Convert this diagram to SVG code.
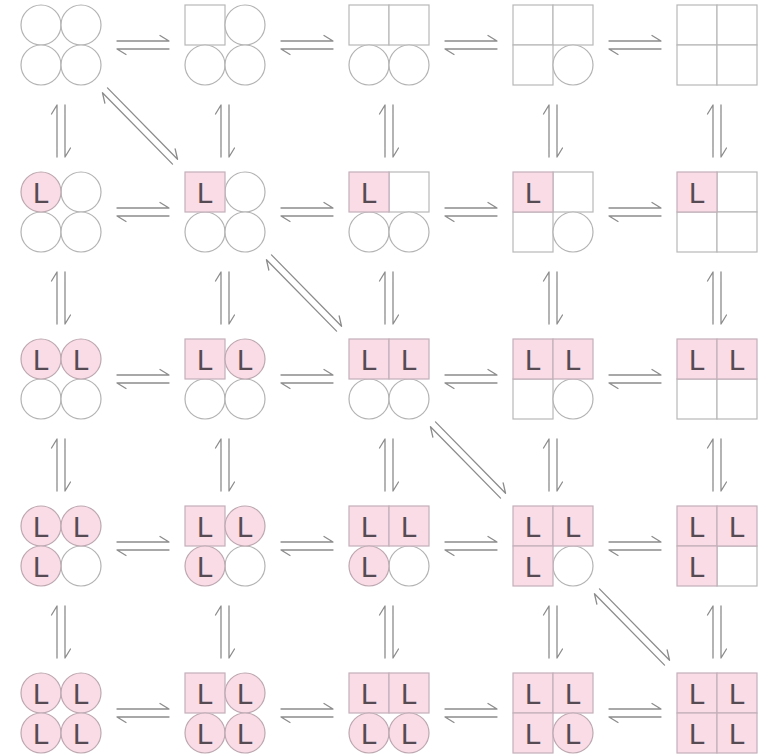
<svg xmlns="http://www.w3.org/2000/svg" xmlns:xlink="http://www.w3.org/1999/xlink" width="769" height="755" viewBox="0 0 769 755">
<style>
.c{fill:#ffffff;stroke:#b3b3b3;stroke-width:1.2}
.cl{fill:#f9dce6;stroke:#bda8b1;stroke-width:1.2}
.s{fill:#ffffff;stroke:#b8b8b8;stroke-width:1.2}
.sl{fill:#f9dce6;stroke:#c4b0b9;stroke-width:1.2}
.t{font-family:"Liberation Sans",Arial,sans-serif;font-size:29px;fill:#574b53;text-anchor:middle}
.h{fill:none;stroke:#8c8c8c;stroke-width:1.3;stroke-linecap:round;stroke-linejoin:round}
</style>
<defs>
<g id="harpH"><path class="h" d="M-26,-4H26L17,-9.5M26,4H-26L-17,9.5"/></g>
<g id="harpV"><path class="h" d="M-4,26V-26L-9.5,-17M4,-26V26L9.5,17"/></g>
<g id="harpD"><path class="h" d="M-32.54,-38.13L37.54,33.23L35.15,22.96M32.54,38.13L-37.54,-33.23L-35.15,-22.96"/></g>
</defs>
<rect width="769" height="755" fill="#ffffff"/>
<g id="connectors">
<use xlink:href="#harpH" x="143" y="45"/><use xlink:href="#harpH" x="307" y="45"/><use xlink:href="#harpH" x="471" y="45"/><use xlink:href="#harpH" x="635" y="45"/>
<use xlink:href="#harpH" x="143" y="212"/><use xlink:href="#harpH" x="307" y="212"/><use xlink:href="#harpH" x="471" y="212"/><use xlink:href="#harpH" x="635" y="212"/>
<use xlink:href="#harpH" x="143" y="379"/><use xlink:href="#harpH" x="307" y="379"/><use xlink:href="#harpH" x="471" y="379"/><use xlink:href="#harpH" x="635" y="379"/>
<use xlink:href="#harpH" x="143" y="546"/><use xlink:href="#harpH" x="307" y="546"/><use xlink:href="#harpH" x="471" y="546"/><use xlink:href="#harpH" x="635" y="546"/>
<use xlink:href="#harpH" x="143" y="713"/><use xlink:href="#harpH" x="307" y="713"/><use xlink:href="#harpH" x="471" y="713"/><use xlink:href="#harpH" x="635" y="713"/>
<use xlink:href="#harpV" x="61" y="131"/><use xlink:href="#harpV" x="225" y="131"/><use xlink:href="#harpV" x="389" y="131"/><use xlink:href="#harpV" x="553" y="131"/><use xlink:href="#harpV" x="717" y="131"/>
<use xlink:href="#harpV" x="61" y="298"/><use xlink:href="#harpV" x="225" y="298"/><use xlink:href="#harpV" x="389" y="298"/><use xlink:href="#harpV" x="553" y="298"/><use xlink:href="#harpV" x="717" y="298"/>
<use xlink:href="#harpV" x="61" y="465"/><use xlink:href="#harpV" x="225" y="465"/><use xlink:href="#harpV" x="389" y="465"/><use xlink:href="#harpV" x="553" y="465"/><use xlink:href="#harpV" x="717" y="465"/>
<use xlink:href="#harpV" x="61" y="632"/><use xlink:href="#harpV" x="225" y="632"/><use xlink:href="#harpV" x="389" y="632"/><use xlink:href="#harpV" x="553" y="632"/><use xlink:href="#harpV" x="717" y="632"/>
<use xlink:href="#harpD" x="140" y="126"/><use xlink:href="#harpD" x="304" y="293"/><use xlink:href="#harpD" x="468" y="460"/><use xlink:href="#harpD" x="632" y="627"/>
</g>
<!-- row 0 -->
<g id="n-0-0" transform="translate(21,5)"><circle class="c" cx="20" cy="20" r="20"/><circle class="c" cx="60" cy="20" r="20"/><circle class="c" cx="20" cy="60" r="20"/><circle class="c" cx="60" cy="60" r="20"/></g>
<g id="n-0-1" transform="translate(185,5)"><rect class="s" x="0" y="0" width="40" height="40"/><circle class="c" cx="60" cy="20" r="20"/><circle class="c" cx="20" cy="60" r="20"/><circle class="c" cx="60" cy="60" r="20"/></g>
<g id="n-0-2" transform="translate(349,5)"><rect class="s" x="0" y="0" width="40" height="40"/><rect class="s" x="40" y="0" width="40" height="40"/><circle class="c" cx="20" cy="60" r="20"/><circle class="c" cx="60" cy="60" r="20"/></g>
<g id="n-0-3" transform="translate(513,5)"><rect class="s" x="0" y="0" width="40" height="40"/><rect class="s" x="40" y="0" width="40" height="40"/><rect class="s" x="0" y="40" width="40" height="40"/><circle class="c" cx="60" cy="60" r="20"/></g>
<g id="n-0-4" transform="translate(677,5)"><rect class="s" x="0" y="0" width="40" height="40"/><rect class="s" x="40" y="0" width="40" height="40"/><rect class="s" x="0" y="40" width="40" height="40"/><rect class="s" x="40" y="40" width="40" height="40"/></g>
<!-- row 1 -->
<g id="n-1-0" transform="translate(21,172)"><circle class="c" cx="60" cy="20" r="20"/><circle class="c" cx="20" cy="60" r="20"/><circle class="c" cx="60" cy="60" r="20"/><circle class="cl" cx="20" cy="20" r="20"/><text class="t" x="20" y="31">L</text></g>
<g id="n-1-1" transform="translate(185,172)"><circle class="c" cx="60" cy="20" r="20"/><circle class="c" cx="20" cy="60" r="20"/><circle class="c" cx="60" cy="60" r="20"/><rect class="sl" x="0" y="0" width="40" height="40"/><text class="t" x="20" y="31">L</text></g>
<g id="n-1-2" transform="translate(349,172)"><rect class="s" x="40" y="0" width="40" height="40"/><circle class="c" cx="20" cy="60" r="20"/><circle class="c" cx="60" cy="60" r="20"/><rect class="sl" x="0" y="0" width="40" height="40"/><text class="t" x="20" y="31">L</text></g>
<g id="n-1-3" transform="translate(513,172)"><rect class="s" x="40" y="0" width="40" height="40"/><rect class="s" x="0" y="40" width="40" height="40"/><circle class="c" cx="60" cy="60" r="20"/><rect class="sl" x="0" y="0" width="40" height="40"/><text class="t" x="20" y="31">L</text></g>
<g id="n-1-4" transform="translate(677,172)"><rect class="s" x="40" y="0" width="40" height="40"/><rect class="s" x="0" y="40" width="40" height="40"/><rect class="s" x="40" y="40" width="40" height="40"/><rect class="sl" x="0" y="0" width="40" height="40"/><text class="t" x="20" y="31">L</text></g>
<!-- row 2 -->
<g id="n-2-0" transform="translate(21,339)"><circle class="c" cx="20" cy="60" r="20"/><circle class="c" cx="60" cy="60" r="20"/><circle class="cl" cx="20" cy="20" r="20"/><circle class="cl" cx="60" cy="20" r="20"/><text class="t" x="20" y="31">L</text><text class="t" x="60" y="31">L</text></g>
<g id="n-2-1" transform="translate(185,339)"><circle class="c" cx="20" cy="60" r="20"/><circle class="c" cx="60" cy="60" r="20"/><rect class="sl" x="0" y="0" width="40" height="40"/><circle class="cl" cx="60" cy="20" r="20"/><text class="t" x="20" y="31">L</text><text class="t" x="60" y="31">L</text></g>
<g id="n-2-2" transform="translate(349,339)"><circle class="c" cx="20" cy="60" r="20"/><circle class="c" cx="60" cy="60" r="20"/><rect class="sl" x="0" y="0" width="40" height="40"/><rect class="sl" x="40" y="0" width="40" height="40"/><text class="t" x="20" y="31">L</text><text class="t" x="60" y="31">L</text></g>
<g id="n-2-3" transform="translate(513,339)"><rect class="s" x="0" y="40" width="40" height="40"/><circle class="c" cx="60" cy="60" r="20"/><rect class="sl" x="0" y="0" width="40" height="40"/><rect class="sl" x="40" y="0" width="40" height="40"/><text class="t" x="20" y="31">L</text><text class="t" x="60" y="31">L</text></g>
<g id="n-2-4" transform="translate(677,339)"><rect class="s" x="0" y="40" width="40" height="40"/><rect class="s" x="40" y="40" width="40" height="40"/><rect class="sl" x="0" y="0" width="40" height="40"/><rect class="sl" x="40" y="0" width="40" height="40"/><text class="t" x="20" y="31">L</text><text class="t" x="60" y="31">L</text></g>
<!-- row 3 -->
<g id="n-3-0" transform="translate(21,506)"><circle class="c" cx="60" cy="60" r="20"/><circle class="cl" cx="20" cy="20" r="20"/><circle class="cl" cx="60" cy="20" r="20"/><circle class="cl" cx="20" cy="60" r="20"/><text class="t" x="20" y="31">L</text><text class="t" x="60" y="31">L</text><text class="t" x="20" y="71">L</text></g>
<g id="n-3-1" transform="translate(185,506)"><circle class="c" cx="60" cy="60" r="20"/><rect class="sl" x="0" y="0" width="40" height="40"/><circle class="cl" cx="60" cy="20" r="20"/><circle class="cl" cx="20" cy="60" r="20"/><text class="t" x="20" y="31">L</text><text class="t" x="60" y="31">L</text><text class="t" x="20" y="71">L</text></g>
<g id="n-3-2" transform="translate(349,506)"><circle class="c" cx="60" cy="60" r="20"/><rect class="sl" x="0" y="0" width="40" height="40"/><rect class="sl" x="40" y="0" width="40" height="40"/><circle class="cl" cx="20" cy="60" r="20"/><text class="t" x="20" y="31">L</text><text class="t" x="60" y="31">L</text><text class="t" x="20" y="71">L</text></g>
<g id="n-3-3" transform="translate(513,506)"><circle class="c" cx="60" cy="60" r="20"/><rect class="sl" x="0" y="0" width="40" height="40"/><rect class="sl" x="40" y="0" width="40" height="40"/><rect class="sl" x="0" y="40" width="40" height="40"/><text class="t" x="20" y="31">L</text><text class="t" x="60" y="31">L</text><text class="t" x="20" y="71">L</text></g>
<g id="n-3-4" transform="translate(677,506)"><rect class="s" x="40" y="40" width="40" height="40"/><rect class="sl" x="0" y="0" width="40" height="40"/><rect class="sl" x="40" y="0" width="40" height="40"/><rect class="sl" x="0" y="40" width="40" height="40"/><text class="t" x="20" y="31">L</text><text class="t" x="60" y="31">L</text><text class="t" x="20" y="71">L</text></g>
<!-- row 4 -->
<g id="n-4-0" transform="translate(21,673)"><circle class="cl" cx="20" cy="20" r="20"/><circle class="cl" cx="60" cy="20" r="20"/><circle class="cl" cx="20" cy="60" r="20"/><circle class="cl" cx="60" cy="60" r="20"/><text class="t" x="20" y="31">L</text><text class="t" x="60" y="31">L</text><text class="t" x="20" y="71">L</text><text class="t" x="60" y="71">L</text></g>
<g id="n-4-1" transform="translate(185,673)"><rect class="sl" x="0" y="0" width="40" height="40"/><circle class="cl" cx="60" cy="20" r="20"/><circle class="cl" cx="20" cy="60" r="20"/><circle class="cl" cx="60" cy="60" r="20"/><text class="t" x="20" y="31">L</text><text class="t" x="60" y="31">L</text><text class="t" x="20" y="71">L</text><text class="t" x="60" y="71">L</text></g>
<g id="n-4-2" transform="translate(349,673)"><rect class="sl" x="0" y="0" width="40" height="40"/><rect class="sl" x="40" y="0" width="40" height="40"/><circle class="cl" cx="20" cy="60" r="20"/><circle class="cl" cx="60" cy="60" r="20"/><text class="t" x="20" y="31">L</text><text class="t" x="60" y="31">L</text><text class="t" x="20" y="71">L</text><text class="t" x="60" y="71">L</text></g>
<g id="n-4-3" transform="translate(513,673)"><rect class="sl" x="0" y="0" width="40" height="40"/><rect class="sl" x="40" y="0" width="40" height="40"/><rect class="sl" x="0" y="40" width="40" height="40"/><circle class="cl" cx="60" cy="60" r="20"/><text class="t" x="20" y="31">L</text><text class="t" x="60" y="31">L</text><text class="t" x="20" y="71">L</text><text class="t" x="60" y="71">L</text></g>
<g id="n-4-4" transform="translate(677,673)"><rect class="sl" x="0" y="0" width="40" height="40"/><rect class="sl" x="40" y="0" width="40" height="40"/><rect class="sl" x="0" y="40" width="40" height="40"/><rect class="sl" x="40" y="40" width="40" height="40"/><text class="t" x="20" y="31">L</text><text class="t" x="60" y="31">L</text><text class="t" x="20" y="71">L</text><text class="t" x="60" y="71">L</text></g>
</svg>
